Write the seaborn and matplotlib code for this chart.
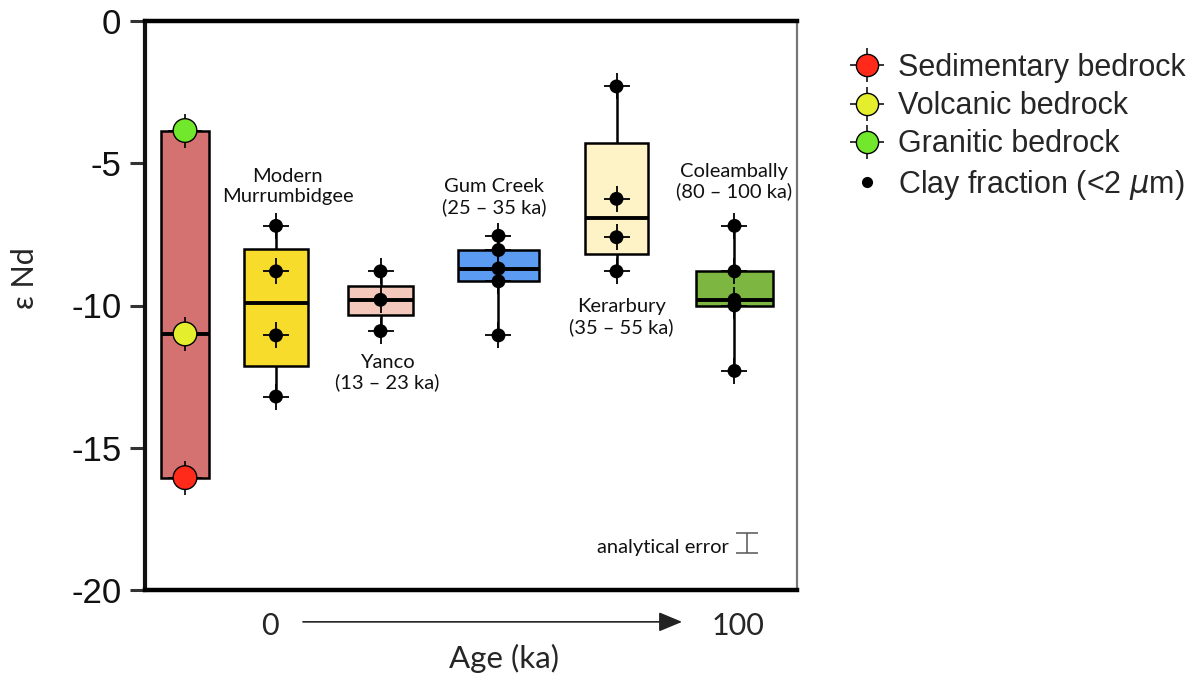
import numpy as np
import pandas as pd
import matplotlib
matplotlib.use("Agg")
import matplotlib.pyplot as plt
import seaborn as sns
from matplotlib.lines import Line2D
from matplotlib.legend_handler import HandlerTuple

# bedrock end-members (eps Nd)
bedrock_types = ["Sedimentary bedrock", "Volcanic bedrock", "Granitic bedrock"]
bedrock_values = [-16.05, -11.0, -3.85]
bedrock_colors = ["#ff2a1a", "#e4ee2c", "#72e82c"]

# clay fraction (<2 um) by deposit
group_labels = ["Modern\nMurrumbidgee", "Yanco\n(13 – 23 ka)", "Gum Creek\n(25 – 35 ka)",
                "Kerarbury\n(35 – 55 ka)", "Coleambally\n(80 – 100 ka)"]
modern = [-7.2, -8.8, -11.05, -13.2]
yanco = [-8.8, -9.8, -10.9]
gum_creek = [-7.55, -8.05, -8.7, -9.15, -11.05]
kerarbury = [-2.3, -6.25, -7.6, -8.8]
coleambally = [-7.2, -8.8, -9.8, -10.0, -12.3]
clay_values = [modern, yanco, gum_creek, kerarbury, coleambally]
box_colors = ["#f7dc2c", "#f4c9bb", "#5b9cf2", "#fdf3c6", "#7db640"]
bedrock_box_color = "#d47272"
analytical_error = 0.34
age_ticks = ["0", "100"]

# layout (x in arbitrary units, 1 unit ~ 100 px)
bed_x, bed_w = 0.40, 0.48
xpos = [1.31, 2.355, 3.535, 4.715, 5.895]
widths = [0.64, 0.65, 0.81, 0.63, 0.77]
label_xy = [(1.425, -5.81), (2.42, -12.36), (3.49, -6.18), (4.767, -10.4), (5.89, -5.64)]
age_tick_pos = [1.25, 5.93]


def fivenum(v):
    # Tukey five-number summary (hinges), as used for the boxes
    v = np.sort(np.asarray(v, dtype=float))
    n = len(v)
    half = (n + 1) // 2
    return [v[0], np.median(v[:half]), np.median(v), np.median(v[n - half:]), v[-1]]


sns.set_theme(style="white")
plt.rcParams["font.family"] = ["Liberation Sans", "DejaVu Sans"]

fig = plt.figure(figsize=(11.96, 6.74), dpi=100)
ax = fig.add_axes([145 / 1196, 1 - 590 / 674, 652 / 1196, 569 / 674])

box_kw = dict(orient="x", native_scale=True, whis=np.inf, saturation=1, linecolor="black",
              linewidth=1.8, showcaps=False, medianprops=dict(linewidth=2.8), ax=ax)

# bedrock range bar: box spans min..max with median line
bed_stats = [min(bedrock_values)] * 2 + [float(np.median(bedrock_values))] + [max(bedrock_values)] * 2
sns.boxplot(x=np.full(5, bed_x), y=bed_stats, width=bed_w, color=bedrock_box_color, **box_kw)

for pos, w, vals, c in zip(xpos, widths, clay_values, box_colors):
    sns.boxplot(x=np.full(5, pos), y=fivenum(vals), width=w, color=c, **box_kw)

# clay points
clay = pd.DataFrame({
    "x": np.repeat(xpos, [len(v) for v in clay_values]),
    "eNd": np.concatenate(clay_values),
})
sns.scatterplot(data=clay, x="x", y="eNd", marker="+", s=340, color="black", linewidth=1.3,
                legend=False, zorder=4, ax=ax)
sns.scatterplot(data=clay, x="x", y="eNd", marker="o", s=100, color="black", edgecolor="none",
                legend=False, zorder=5, ax=ax)

# bedrock points
bed = pd.DataFrame({"x": bed_x, "eNd": bedrock_values, "type": bedrock_types})
sns.scatterplot(data=bed, x="x", y="eNd", marker="+", s=620, color="black", linewidth=1.2,
                legend=False, zorder=4, ax=ax)
sns.scatterplot(data=bed, x="x", y="eNd", hue="type", palette=dict(zip(bedrock_types, bedrock_colors)),
                marker="o", s=290, edgecolor="black", linewidth=1.0, legend=False, zorder=5, ax=ax)

# group labels
for (tx, ty), lab in zip(label_xy, group_labels):
    ax.text(tx, ty, lab, ha="center", va="center", fontsize=14.5, family="Lato",
            linespacing=1.2, color="#111111")

ax.text(5.18, -18.52, "analytical error", ha="center", va="center", fontsize=14.5,
        family="Lato", color="#111111")
ax.errorbar(6.017, -18.35, yerr=analytical_error, color="#555555", lw=1.1, capsize=8, capthick=1.1)

ax.set_xlim(0, 6.52)
ax.set_ylim(-20, 0)
ax.set_yticks([0, -5, -10, -15, -20])
ax.set_yticklabels(["0", "-5", "-10", "-15", "-20"])
ax.tick_params(axis="y", left=True, length=11, width=2.2, color="#333333", pad=6,
               labelsize=25, labelcolor="#111111")
ax.set_xticks(age_tick_pos, labels=age_ticks)
ax.tick_params(axis="x", bottom=False, length=0, pad=16, labelsize=22)
for t in ax.get_xticklabels():
    t.set_family("Lato")

ax.set_xlabel("Age (ka)", fontsize=22.5, family="Lato")
ax.xaxis.set_label_coords(0.55, -0.094)
ax.set_ylabel("ε Nd", fontsize=22, family="Lato")
ax.yaxis.set_label_coords(-0.163, 0.548)

for side, lw, col in [("top", 3.2, "black"), ("left", 3.0, "#111111"),
                      ("bottom", 3.2, "black"), ("right", 1.6, "#777777")]:
    ax.spines[side].set_visible(True)
    ax.spines[side].set_linewidth(lw)
    ax.spines[side].set_color(col)

# age arrow under the axis
ax.annotate("", xy=(0.828, -0.056), xytext=(0.238, -0.056), xycoords="axes fraction",
            textcoords="axes fraction", annotation_clip=False,
            arrowprops=dict(arrowstyle="-|>,head_length=1.2,head_width=0.5", color="#222222", lw=1.2))

# legend
handles = []
for c in bedrock_colors:
    handles.append((Line2D([], [], marker="+", ms=24, mew=1.1, color="black", ls="none"),
                    Line2D([], [], marker="o", ms=16, mfc=c, mec="black", mew=1.0, ls="none")))
handles.append(Line2D([], [], marker="o", ms=7, color="black", ls="none"))
labels = bedrock_types + ["Clay fraction (<2 $\\mu$m)"]
fig.legend(handles, labels, loc="upper left", bbox_to_anchor=(852 / 1196, 1 - 53 / 674),
           frameon=False, fontsize=22, handlelength=1.0, handletextpad=0.5, labelspacing=0.27,
           borderpad=0, borderaxespad=0, handler_map={tuple: HandlerTuple(ndivide=1, pad=0)})

fig.savefig("out.png", dpi=100)
